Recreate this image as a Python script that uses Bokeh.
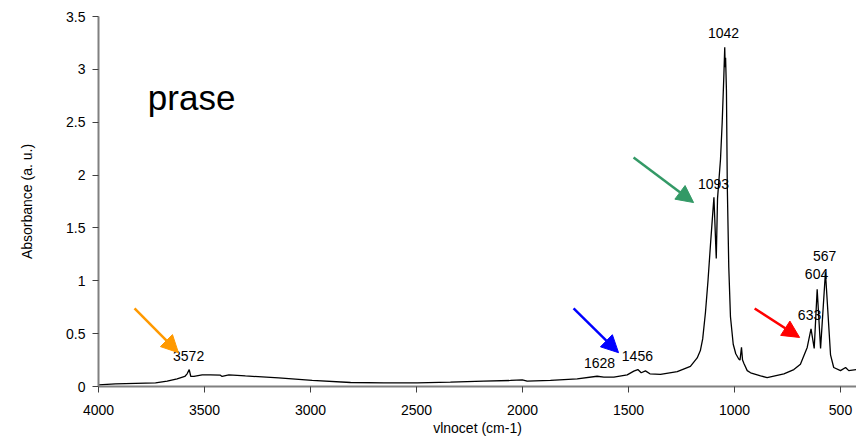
from bokeh.plotting import figure
from bokeh.models import Range1d, FixedTicker, NumeralTickFormatter, Arrow, NormalHead
from bokeh.core.properties import value
from bokeh.embed import file_html
from bokeh.resources import INLINE

# Spectrum
wavenumber = [4000, 3920, 3825, 3731, 3676, 3629, 3593, 3582, 3572, 3565,
              3550, 3511, 3472, 3425, 3417, 3385, 3307, 3150, 2992, 2811,
              2654, 2497, 2340, 2183, 2057, 2001, 1978, 1868, 1742, 1648,
              1616, 1569, 1506, 1475, 1456, 1440, 1420, 1399, 1349, 1270,
              1208, 1176, 1161, 1150, 1137, 1125, 1113, 1104, 1097, 1086,
              1080, 1066, 1058, 1050, 1046, 1044, 1042, 1038, 1034, 1027,
              1019, 1006, 994, 980, 974, 967, 962, 956, 940, 924,
              877, 846, 767, 720, 689, 657, 639, 624, 610, 594,
              571, 547, 532, 500, 476, 461, 425]
absorbance = [0.016, 0.025, 0.030, 0.035, 0.050, 0.073, 0.095, 0.120, 0.160, 0.097,
              0.095, 0.110, 0.110, 0.107, 0.095, 0.110, 0.100, 0.082, 0.057, 0.038,
              0.035, 0.035, 0.041, 0.050, 0.057, 0.063, 0.050, 0.057, 0.073, 0.097,
              0.088, 0.088, 0.110, 0.145, 0.160, 0.130, 0.148, 0.120, 0.114, 0.140,
              0.190, 0.270, 0.340, 0.450, 0.700, 1.000, 1.350, 1.600, 1.790, 1.210,
              1.780, 2.150, 2.500, 2.950, 3.210, 3.020, 3.110, 2.800, 1.900, 1.130,
              0.660, 0.400, 0.310, 0.260, 0.250, 0.370, 0.250, 0.220, 0.150, 0.130,
              0.100, 0.085, 0.120, 0.160, 0.210, 0.370, 0.545, 0.360, 0.920, 0.360,
              1.080, 0.300, 0.180, 0.150, 0.180, 0.150, 0.160]

# Peak labels
peak_labels = ["1042", "1093", "567", "604", "633", "1628", "1456", "3572"]
peak_label_x = [1052, 1099, 575, 613, 646, 1637, 1458, 3575]
peak_label_y = [3.34, 1.92, 1.23, 1.06, 0.68, 0.227, 0.293, 0.293]

# Arrows
arrow_colors = ["#FF9900", "#0000FF", "#339966", "#FF0000"]
arrow_x_start = [3830, 1759, 1476, 905]
arrow_y_start = [0.738, 0.738, 2.166, 0.738]
arrow_x_end = [3623, 1547, 1193, 693]
arrow_y_end = [0.32, 0.32, 1.74, 0.464]

x_ticks = [4000, 3500, 3000, 2500, 2000, 1500, 1000, 500]
y_ticks = [0, 0.5, 1, 1.5, 2, 2.5, 3, 3.5]

title_text = "prase"
x_label = "vlnocet (cm-1)"
y_label = "Absorbance (a. u.)"

FONT = "Liberation Sans"

p = figure(width=856, height=439, output_backend="svg", toolbar_location=None,
           x_range=Range1d(4000, 424.5), y_range=Range1d(0, 3.5),
           min_border_left=98, min_border_right=0, min_border_top=16, min_border_bottom=53)
p.outline_line_color = None
p.xgrid.grid_line_color = None
p.ygrid.grid_line_color = None

for ax in (p.xaxis[0], p.yaxis[0]):
    ax.axis_line_color = "#808080"
    ax.axis_line_width = 2
    ax.major_tick_line_color = "#404040"
    ax.major_tick_out = 6
    ax.major_tick_in = 0
    ax.minor_tick_line_color = None
    ax.major_label_text_font = FONT
    ax.major_label_text_font_size = "14px"
    ax.major_label_text_color = "#000000"
    ax.axis_label_text_font = FONT
    ax.axis_label_text_font_size = "14px"
    ax.axis_label_text_font_style = "normal"
    ax.axis_label_text_color = "#000000"

p.xaxis.ticker = FixedTicker(ticks=x_ticks)
p.yaxis.ticker = FixedTicker(ticks=y_ticks)
p.yaxis.formatter = NumeralTickFormatter(format="0.[0]")
p.xaxis.formatter = NumeralTickFormatter(format="0")
p.xaxis.axis_label = x_label
p.yaxis.axis_label = y_label
p.xaxis.major_label_standoff = 12
p.xaxis.axis_label_standoff = 2
p.yaxis.major_label_standoff = 7
p.yaxis.axis_label_standoff = 28

p.line(wavenumber, absorbance, line_color="black", line_width=1.3)

p.text(x=peak_label_x, y=peak_label_y, text=peak_labels,
       text_font=value(FONT), text_font_size="14px", text_color="#000000",
       text_align="center", text_baseline="middle")

p.text(x=[3561], y=[2.734], text=[title_text],
       text_font=value(FONT), text_font_size="35px", text_color="#000000",
       text_align="center", text_baseline="alphabetic")

for c, xs, ys, xe, ye in zip(arrow_colors, arrow_x_start, arrow_y_start, arrow_x_end, arrow_y_end):
    p.add_layout(Arrow(end=NormalHead(fill_color=c, line_color=c, size=17),
                       x_start=xs, y_start=ys, x_end=xe, y_end=ye,
                       line_color=c, line_width=2.5))

open("out.html", "w").write(file_html(p, INLINE))
